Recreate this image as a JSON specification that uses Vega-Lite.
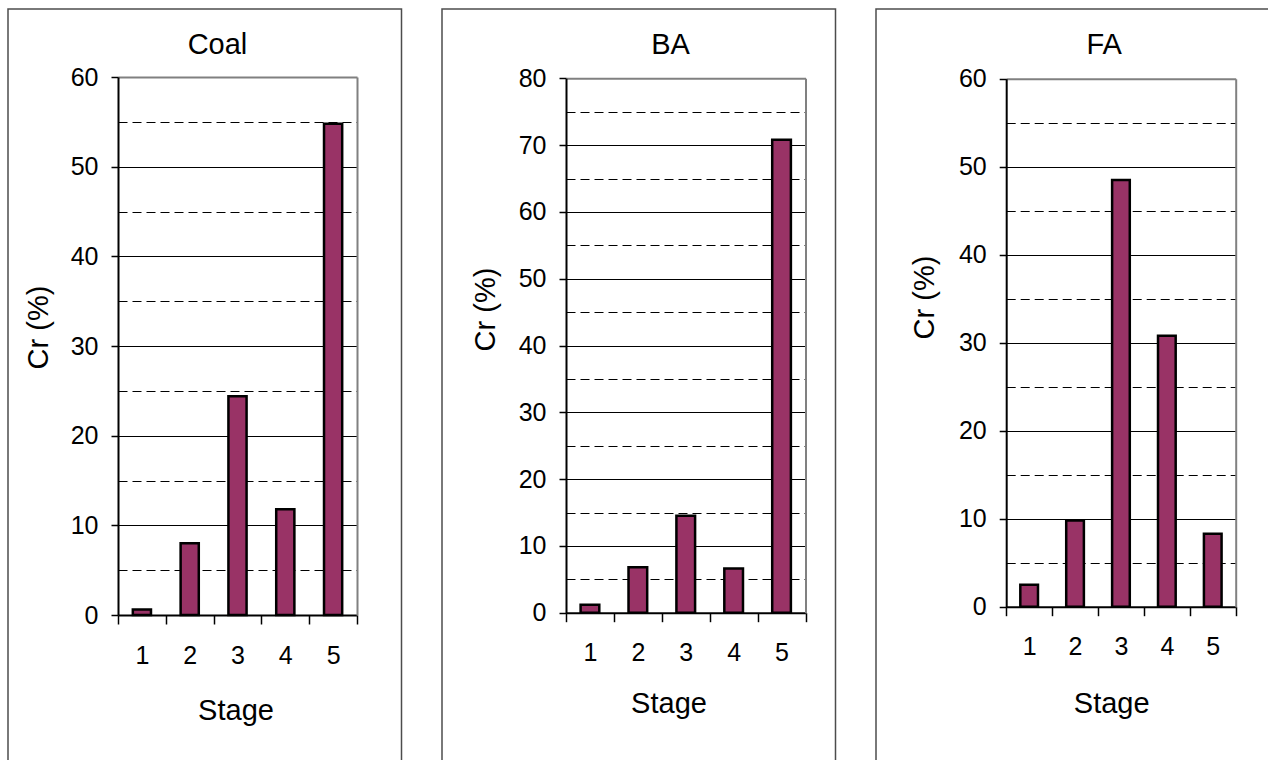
{
  "$schema": "https://vega.github.io/schema/vega-lite/v6.json",
  "padding": {"left": 7, "top": 8, "right": 0, "bottom": 0},
  "background": "white",
  "spacing": 38,
  "config": {
    "font": "Liberation Sans",
    "view": {"stroke": "#4d4d4d", "strokeWidth": 1.5},
    "axis": {"labelFont": "Liberation Sans", "titleFont": "Liberation Sans", "titleFontWeight": "normal", "labelColor": "#000", "titleColor": "#000", "grid": false}
  },
  "datasets": {
    "coal": [
      {"Stage": 1, "Cr": 0.6}, {"Stage": 2, "Cr": 8.0}, {"Stage": 3, "Cr": 24.4}, {"Stage": 4, "Cr": 11.8}, {"Stage": 5, "Cr": 54.8}
    ],
    "ba": [
      {"Stage": 1, "Cr": 1.2}, {"Stage": 2, "Cr": 6.8}, {"Stage": 3, "Cr": 14.5}, {"Stage": 4, "Cr": 6.6}, {"Stage": 5, "Cr": 70.8}
    ],
    "fa": [
      {"Stage": 1, "Cr": 2.5}, {"Stage": 2, "Cr": 9.8}, {"Stage": 3, "Cr": 48.5}, {"Stage": 4, "Cr": 30.8}, {"Stage": 5, "Cr": 8.3}
    ]
  },
  "hconcat": [
    {
      "width": 393.5, "height": 753,
      "data": {"name": "coal"},
      "layer": [
        {
          "mark": {"type": "bar", "fill": "#993366", "stroke": "#000", "strokeWidth": 2.5, "width": {"band": 0.38}},
          "encoding": {
            "x": {"field": "Stage", "type": "ordinal",
              "scale": {"type": "band", "range": [110, 349], "paddingInner": 0, "paddingOuter": 0},
              "axis": {"orient": "bottom", "offset": -147, "tickBand": "extent", "tickSize": 9, "tickWidth": 1.5, "tickColor": "#000", "domainColor": "#000", "domainWidth": 2, "labelAngle": 0, "labelFontSize": 25, "labelPadding": 19, "title": "Stage", "titleFontSize": 29, "titleX": 227.5, "titleY": 104, "titleBaseline": "alphabetic", "titleAlign": "center", "grid": false}},
            "y": {"field": "Cr", "type": "quantitative",
              "scale": {"domain": [0, 60], "range": [606, 68], "nice": false},
              "axis": {"orient": "left", "offset": -110, "values": [0,5,10,15,20,25,30,35,40,45,50,55,60], "grid": true,
                "gridColor": {"condition": {"test": "datum.value == 0 || datum.value == 60", "value": "transparent"}, "value": "#000"},
                "gridDash": {"condition": {"test": "datum.value % 10 != 0", "value": [9, 5]}, "value": []},
                "gridWidth": 1,
                "labelExpr": "datum.value % 10 == 0 ? datum.label : ''",
                "tickColor": {"condition": {"test": "datum.value % 10 != 0", "value": "transparent"}, "value": "#000"},
                "tickSize": 7, "tickWidth": 1.5, "domainColor": "#000", "domainWidth": 2,
                "labelFontSize": 25, "labelPadding": 13,
                "title": "Cr (%)", "titleFontSize": 29, "titleX": -71, "titleY": 318, "titleAlign": "center", "titleBaseline": "alphabetic", "titleAngle": 270}}
          }
        },
        {
          "mark": {"type": "bar", "opacity": 0, "width": {"band": 0.38}},
          "encoding": {
            "x": {"field": "Stage", "type": "ordinal",
              "axis": {"orient": "top", "offset": -68, "labels": false, "ticks": false, "domainColor": "#808080", "domainWidth": 2, "grid": false, "title": "Coal", "titleFontSize": 29, "titleX": 209, "titleY": -23.3, "titleBaseline": "alphabetic", "titleAlign": "center"}},
            "y": {"field": "Cr", "type": "quantitative",
              "axis": {"orient": "right", "offset": -44.5, "labels": false, "ticks": false, "domainColor": "#808080", "domainWidth": 2, "grid": false, "title": null}}
          }
        }
      ]
    },
    {
      "width": 393.5, "height": 753,
      "data": {"name": "ba"},
      "layer": [
        {
          "mark": {"type": "bar", "fill": "#993366", "stroke": "#000", "strokeWidth": 2.5, "width": {"band": 0.39}},
          "encoding": {
            "x": {"field": "Stage", "type": "ordinal",
              "scale": {"type": "band", "range": [124, 363.5], "paddingInner": 0, "paddingOuter": 0},
              "axis": {"orient": "bottom", "offset": -149.3, "tickBand": "extent", "tickSize": 9, "tickWidth": 1.5, "tickColor": "#000", "domainColor": "#000", "domainWidth": 2, "labelAngle": 0, "labelFontSize": 25, "labelPadding": 19, "title": "Stage", "titleFontSize": 29, "titleX": 226.5, "titleY": 99.3, "titleBaseline": "alphabetic", "titleAlign": "center", "grid": false}},
            "y": {"field": "Cr", "type": "quantitative",
              "scale": {"domain": [0, 80], "range": [603.7, 69.3], "nice": false},
              "axis": {"orient": "left", "offset": -124, "values": [0,5,10,15,20,25,30,35,40,45,50,55,60,65,70,75,80], "grid": true,
                "gridColor": {"condition": {"test": "datum.value == 0 || datum.value == 80", "value": "transparent"}, "value": "#000"},
                "gridDash": {"condition": {"test": "datum.value % 10 != 0", "value": [9, 5]}, "value": []},
                "gridWidth": 1,
                "labelExpr": "datum.value % 10 == 0 ? datum.label : ''",
                "tickColor": {"condition": {"test": "datum.value % 10 != 0", "value": "transparent"}, "value": "#000"},
                "tickSize": 7, "tickWidth": 1.5, "domainColor": "#000", "domainWidth": 2,
                "labelFontSize": 25, "labelPadding": 13,
                "title": "Cr (%)", "titleFontSize": 29, "titleX": -72, "titleY": 300, "titleAlign": "center", "titleBaseline": "alphabetic", "titleAngle": 270}}
          }
        },
        {
          "mark": {"type": "bar", "opacity": 0, "width": {"band": 0.39}},
          "encoding": {
            "x": {"field": "Stage", "type": "ordinal",
              "axis": {"orient": "top", "offset": -69.3, "labels": false, "ticks": false, "domainColor": "#808080", "domainWidth": 2, "grid": false, "title": "BA", "titleFontSize": 29, "titleX": 228, "titleY": -25, "titleBaseline": "alphabetic", "titleAlign": "center"}},
            "y": {"field": "Cr", "type": "quantitative",
              "axis": {"orient": "right", "offset": -30, "labels": false, "ticks": false, "domainColor": "#808080", "domainWidth": 2, "grid": false, "title": null}}
          }
        }
      ]
    },
    {
      "width": 393.5, "height": 753,
      "data": {"name": "fa"},
      "layer": [
        {
          "mark": {"type": "bar", "fill": "#993366", "stroke": "#000", "strokeWidth": 2.5, "width": {"band": 0.385}},
          "encoding": {
            "x": {"field": "Stage", "type": "ordinal",
              "scale": {"type": "band", "range": [130.2, 359.7], "paddingInner": 0, "paddingOuter": 0},
              "axis": {"orient": "bottom", "offset": -155.3, "tickBand": "extent", "tickSize": 9, "tickWidth": 1.5, "tickColor": "#000", "domainColor": "#000", "domainWidth": 2, "labelAngle": 0, "labelFontSize": 25, "labelPadding": 19, "title": "Stage", "titleFontSize": 29, "titleX": 235.2, "titleY": 106, "titleBaseline": "alphabetic", "titleAlign": "center", "grid": false}},
            "y": {"field": "Cr", "type": "quantitative",
              "scale": {"domain": [0, 60], "range": [597.7, 69.7], "nice": false},
              "axis": {"orient": "left", "offset": -130.2, "values": [0,5,10,15,20,25,30,35,40,45,50,55,60], "grid": true,
                "gridColor": {"condition": {"test": "datum.value == 0 || datum.value == 60", "value": "transparent"}, "value": "#000"},
                "gridDash": {"condition": {"test": "datum.value % 10 != 0", "value": [9, 5]}, "value": []},
                "gridWidth": 1,
                "labelExpr": "datum.value % 10 == 0 ? datum.label : ''",
                "tickColor": {"condition": {"test": "datum.value % 10 != 0", "value": "transparent"}, "value": "#000"},
                "tickSize": 7, "tickWidth": 1.5, "domainColor": "#000", "domainWidth": 2,
                "labelFontSize": 25, "labelPadding": 13,
                "title": "Cr (%)", "titleFontSize": 29, "titleX": -73, "titleY": 288, "titleAlign": "center", "titleBaseline": "alphabetic", "titleAngle": 270}}
          }
        },
        {
          "mark": {"type": "bar", "opacity": 0, "width": {"band": 0.385}},
          "encoding": {
            "x": {"field": "Stage", "type": "ordinal",
              "axis": {"orient": "top", "offset": -69.7, "labels": false, "ticks": false, "domainColor": "#808080", "domainWidth": 2, "grid": false, "title": "FA", "titleFontSize": 29, "titleX": 227.7, "titleY": -25, "titleBaseline": "alphabetic", "titleAlign": "center"}},
            "y": {"field": "Cr", "type": "quantitative",
              "axis": {"orient": "right", "offset": -33.8, "labels": false, "ticks": false, "domainColor": "#808080", "domainWidth": 2, "grid": false, "title": null}}
          }
        }
      ]
    }
  ]
}
